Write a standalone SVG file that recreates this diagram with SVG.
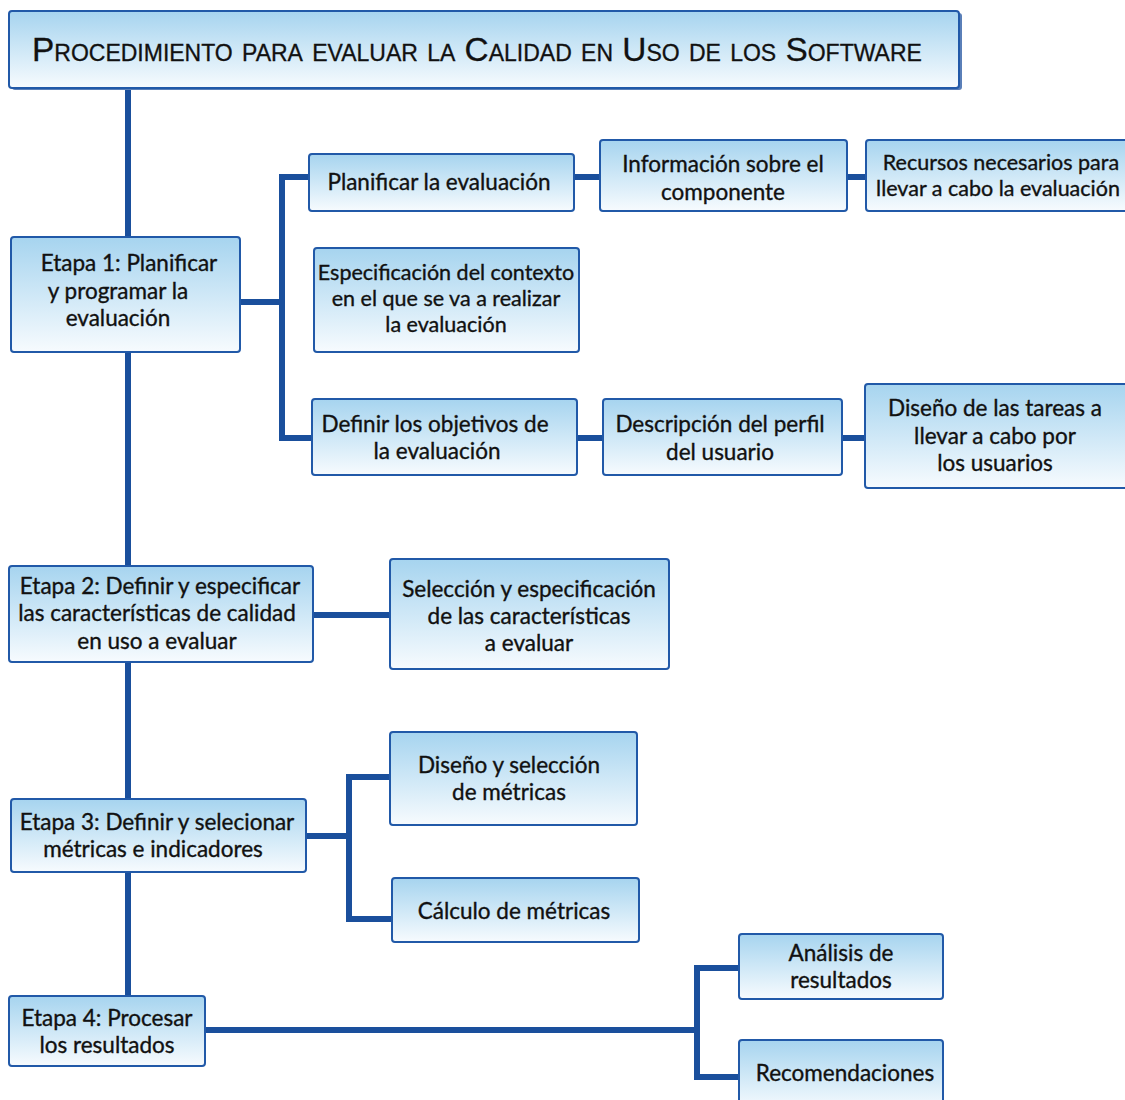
<svg xmlns="http://www.w3.org/2000/svg" width="1125" height="1100" viewBox="0 0 1125 1100">
<defs>
<linearGradient id="g" x1="0" y1="0" x2="0" y2="1">
<stop offset="0" stop-color="#a6d4ef"/>
<stop offset="1" stop-color="#f7fbfe"/>
</linearGradient>
<style>
.box{fill:url(#g);stroke:#2159a8;stroke-width:2}
.t{font-family:"Lato","Open Sans",sans-serif;font-size:22.5px;fill:#111;stroke:#111;stroke-width:0.35;text-anchor:middle}
.c{fill:none;stroke:#1a4f9c;stroke-width:6}
.title{font-family:"Liberation Sans",Arial,sans-serif;font-size:33.4px;font-variant:small-caps;fill:#111;stroke:#111;stroke-width:0.3}
</style>
</defs>
<rect width="1125" height="1100" fill="#fff"/>
<g id="connectors">
<path class="c" d="M128 89V996"/>
<path class="c" d="M240 302H282M309 177H282V438H312"/>
<path class="c" d="M574 177H600M847 177H866"/>
<path class="c" d="M577 438H603M842 438H865"/>
<path class="c" d="M313 615H390"/>
<path class="c" d="M306 836H349M390 777H349V919H392"/>
<path class="c" d="M205 1030H697M739 968H697V1077H739"/>
</g>
<g id="title">
<rect x="12" y="13" width="950" height="77" rx="3" fill="#5a7fb8"/>
<rect class="box" x="9" y="11" width="950" height="77" rx="3"/>
<text class="title" x="32" y="61">Procedimiento para evaluar la Calidad en Uso de los Software</text>
</g>
<g id="etapa1">
<rect class="box" x="11" y="237" width="229" height="115" rx="3"/>
<text class="t"><tspan x="129" y="271">Etapa 1: Planificar</tspan><tspan x="118" y="299">y programar la</tspan><tspan x="118" y="326">evaluación</tspan></text>
</g>
<g id="planificar">
<rect class="box" x="309" y="154" width="265" height="57" rx="3"/>
<text class="t" x="439" y="190">Planificar la evaluación</text>
</g>
<g id="informacion">
<rect class="box" x="600" y="140" width="247" height="71" rx="3"/>
<text class="t"><tspan x="723" y="172">Información sobre el</tspan><tspan x="723" y="200">componente</tspan></text>
</g>
<g id="recursos">
<rect class="box" x="866" y="140" width="265" height="71" rx="3"/>
<text class="t" style="font-size:21.5px"><tspan x="1001" y="170">Recursos necesarios para</tspan><tspan x="998" y="196">llevar a cabo la evaluación</tspan></text>
</g>
<g id="especificacion">
<rect class="box" x="314" y="248" width="265" height="104" rx="3"/>
<text class="t" style="font-size:21.5px"><tspan x="446" y="280">Especificación del contexto</tspan><tspan x="446" y="306">en el que se va a realizar</tspan><tspan x="446" y="332">la evaluación</tspan></text>
</g>
<g id="definir">
<rect class="box" x="312" y="399" width="265" height="76" rx="3"/>
<text class="t"><tspan x="435" y="432">Definir los objetivos de</tspan><tspan x="437" y="459">la evaluación</tspan></text>
</g>
<g id="descripcion">
<rect class="box" x="603" y="399" width="239" height="76" rx="3"/>
<text class="t"><tspan x="720" y="432">Descripción del perfil</tspan><tspan x="720" y="460">del usuario</tspan></text>
</g>
<g id="diseno-tareas">
<rect class="box" x="865" y="384" width="266" height="104" rx="3"/>
<text class="t"><tspan x="995" y="416">Diseño de las tareas a</tspan><tspan x="995" y="444">llevar a cabo por</tspan><tspan x="995" y="471">los usuarios</tspan></text>
</g>
<g id="etapa2">
<rect class="box" x="9" y="566" width="304" height="96" rx="3"/>
<text class="t"><tspan x="160" y="594">Etapa 2: Definir y especificar</tspan><tspan x="157" y="621">las características de calidad</tspan><tspan x="157" y="649">en uso a evaluar</tspan></text>
</g>
<g id="seleccion">
<rect class="box" x="390" y="559" width="279" height="110" rx="3"/>
<text class="t"><tspan x="529" y="597">Selección y especificación</tspan><tspan x="529" y="624">de las características</tspan><tspan x="529" y="651">a evaluar</tspan></text>
</g>
<g id="etapa3">
<rect class="box" x="11" y="799" width="295" height="73" rx="3"/>
<text class="t"><tspan x="157" y="830">Etapa 3: Definir y selecionar</tspan><tspan x="153" y="857">métricas e indicadores</tspan></text>
</g>
<g id="diseno-metricas">
<rect class="box" x="390" y="732" width="247" height="93" rx="3"/>
<text class="t"><tspan x="509" y="773">Diseño y selección</tspan><tspan x="509" y="800">de métricas</tspan></text>
</g>
<g id="calculo">
<rect class="box" x="392" y="878" width="247" height="64" rx="3"/>
<text class="t" x="514" y="919">Cálculo de métricas</text>
</g>
<g id="etapa4">
<rect class="box" x="9" y="996" width="196" height="70" rx="3"/>
<text class="t"><tspan x="107" y="1026">Etapa 4: Procesar</tspan><tspan x="107" y="1053">los resultados</tspan></text>
</g>
<g id="analisis">
<rect class="box" x="739" y="934" width="204" height="65" rx="3"/>
<text class="t"><tspan x="841" y="961">Análisis de</tspan><tspan x="841" y="988">resultados</tspan></text>
</g>
<g id="recomendaciones">
<rect class="box" x="739" y="1040" width="204" height="70" rx="3"/>
<text class="t" x="845" y="1081">Recomendaciones</text>
</g>
</svg>
